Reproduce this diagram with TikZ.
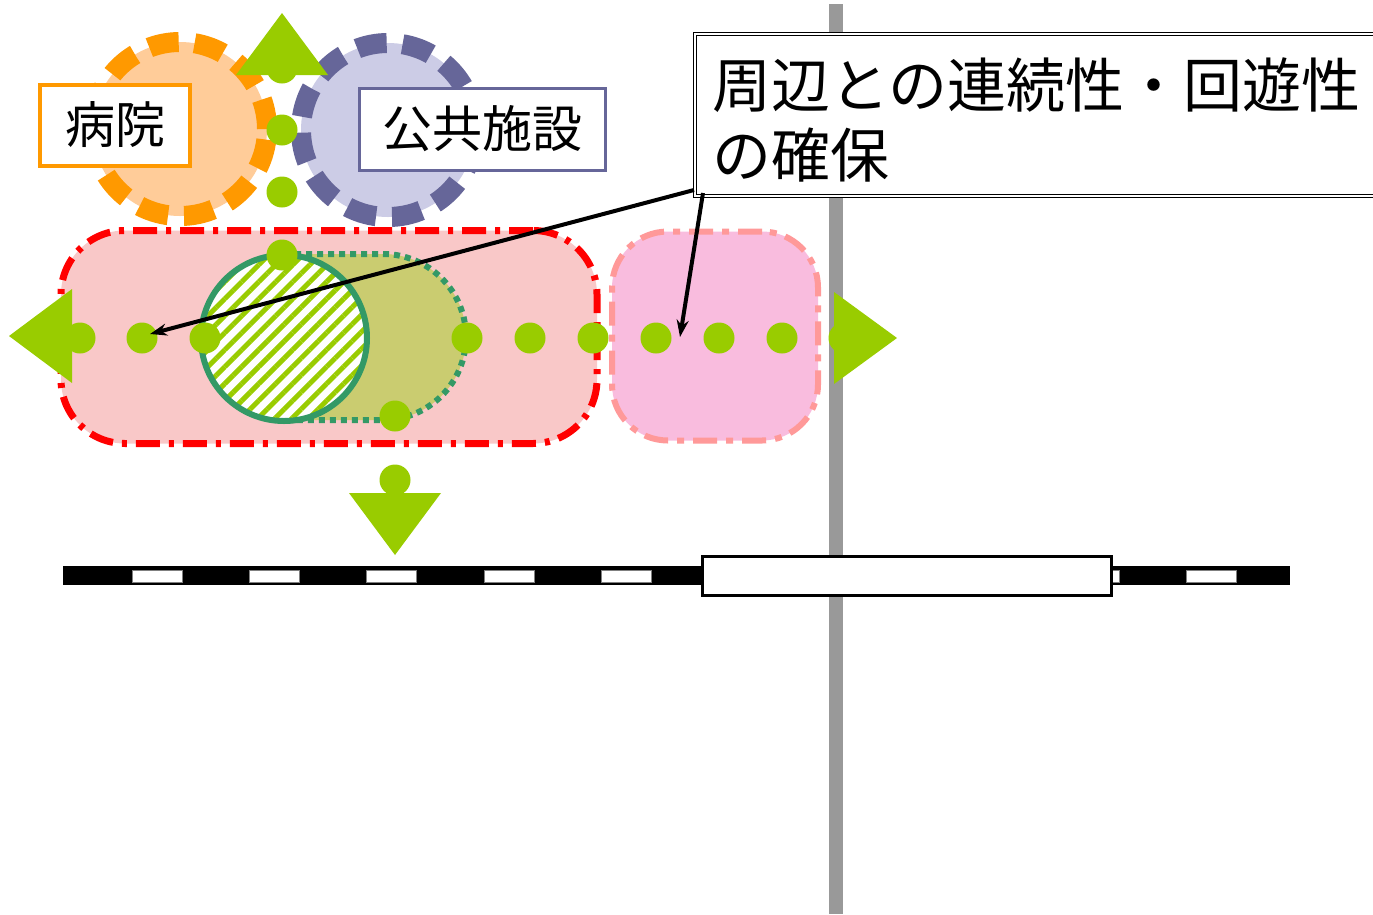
\documentclass[tikz,border=0pt]{standalone}
\usepackage{fontspec}
\setmainfont{Noto Sans CJK JP}
\usetikzlibrary{patterns.meta,calc,arrows.meta}
\definecolor{grn}{HTML}{99CC00}
\definecolor{dkgrn}{HTML}{339966}
\definecolor{orng}{HTML}{FF9900}
\definecolor{peach}{HTML}{FFCC99}
\definecolor{purp}{HTML}{666699}
\definecolor{lav}{HTML}{CCCCE6}
\definecolor{polegray}{HTML}{999999}
\definecolor{redfill}{RGB}{249,200,200}
\definecolor{pinkfill}{RGB}{249,188,222}
\definecolor{olivefill}{RGB}{202,204,112}
\definecolor{pinkline}{HTML}{FF9999}
\tikzset{
  gdot/.style={circle, fill=grn, minimum size=31pt, inner sep=0pt},
  gtri/.style={fill=grn},
  facility/.style={circle, minimum size=174pt, inner sep=0pt, line width=20pt, dash pattern=on 30pt off 16pt},
  labelbox/.style={fill=white, inner sep=0pt, font=\fontsize{50}{60}\selectfont},
  zone/.style={inner sep=0pt},
  callarrow/.style={draw=black, line width=4pt, -{Stealth[length=17pt,width=12pt]}},
}
\begin{document}
\begin{tikzpicture}[x=1pt,y=-1pt]
\useasboundingbox (0,0) rectangle (1373,914);
\clip (0,0) rectangle (1373,914);
\fill[white] (0,0) rectangle (1373,914);

% gray pole line
\draw[polegray, line width=14pt] (836,4) -- (836,914);

% facility circles
\node[facility, fill=peach, draw=orng] (hosp) at (180,129) {};
\node[facility, fill=lav, draw=purp] (pub) at (388,130) {};

% labels
\node[labelbox, draw=orng, line width=4pt, minimum width=150pt, minimum height=81pt] (hlabel) at (115,125) {病院};
\node[labelbox, draw=purp, line width=3pt, minimum width=246pt, minimum height=82pt] (plabel) at (482,129) {公共施設};

% zones
\node[zone, draw=red, fill=redfill, line width=7pt, rounded corners=64pt,
      dash pattern=on 24pt off 9pt on 5pt off 9pt,
      minimum width=536pt, minimum height=213pt] (zoneA) at (329,337) {};
\node[zone, draw=pinkline, fill=pinkfill, line width=6pt, rounded corners=56pt,
      dash pattern=on 24pt off 9pt on 7pt off 9pt,
      minimum width=206pt, minimum height=209pt] (zoneB) at (715,336) {};

% olive area
\fill[olivefill] (284,254) -- (383,254) arc (-90:90:83) -- (284,420) -- cycle;
\draw[dkgrn, line width=6pt, dash pattern=on 6pt off 5pt] (284,254) -- (383,254) arc (-90:90:83) -- (284,420);

% hatched circle
\node[circle, minimum size=166pt, inner sep=0pt, draw=dkgrn, line width=6pt,
      preaction={fill=white}, pattern={Lines[angle=45,distance=12pt,line width=5pt]}, pattern color=grn] (core) at (284,338) {};

% green dots
\node[gdot] (h1) at (80,338) {};
\node[gdot] (h2) at (142,338) {};
\node[gdot] (h3) at (205,338) {};
\node[gdot] (h4) at (467,338) {};
\node[gdot] (h5) at (530,338) {};
\node[gdot] (h6) at (593,338) {};
\node[gdot] (h7) at (656,338) {};
\node[gdot] (h8) at (719,338) {};
\node[gdot] (h9) at (782,338) {};
\node[gdot] (h10) at (844,338) {};
\node[gdot] (v1) at (282,68) {};
\node[gdot] (v2) at (282,130) {};
\node[gdot] (v3) at (282,192) {};
\node[gdot] (v4) at (282,255) {};
\node[gdot] (w1) at (395,416) {};
\node[gdot, minimum width=28pt, minimum height=31pt] (w2) at (395,480) {};

% triangles
\fill[gtri] (282,13) -- (328,75) -- (236,75) -- cycle;
\fill[gtri] (9,336) -- (72,289) -- (72,383) -- cycle;
\fill[gtri] (897,338) -- (834,292) -- (834,384) -- cycle;
\fill[gtri] (395,555) -- (349,493) -- (441,493) -- cycle;

% railway
\fill[black] (63,566) rectangle (1290,585);
\foreach \x in {132,249,366,484,601,718,835,952,1069,1186}
  \filldraw[fill=white, draw=gray, line width=0.6pt] (\x,570) rectangle ++(50,12);
\node[draw=black, fill=white, line width=3pt, minimum width=409pt, minimum height=39pt, inner sep=0pt] (station) at (907,576) {};

% callout
\node[draw=black, double=white, double distance=2pt, line width=1pt, fill=white,
      anchor=north west, minimum width=800pt, minimum height=162pt, inner sep=0pt] (callout) at (694,33) {};
\node[anchor=west, align=left, inner sep=0pt, font=\fontsize{59}{70}\selectfont] (ctext) at (712,120) {周辺との連続性・回遊性\\の確保};

\coordinate (s1) at (694,190);
\coordinate (s2) at (703,193);
\coordinate (t1) at (150,334);
\coordinate (t2) at (680,337);
\draw[callarrow] (s1) -- (t1);
\draw[callarrow] (s2) -- (t2);
\end{tikzpicture}
\end{document}
